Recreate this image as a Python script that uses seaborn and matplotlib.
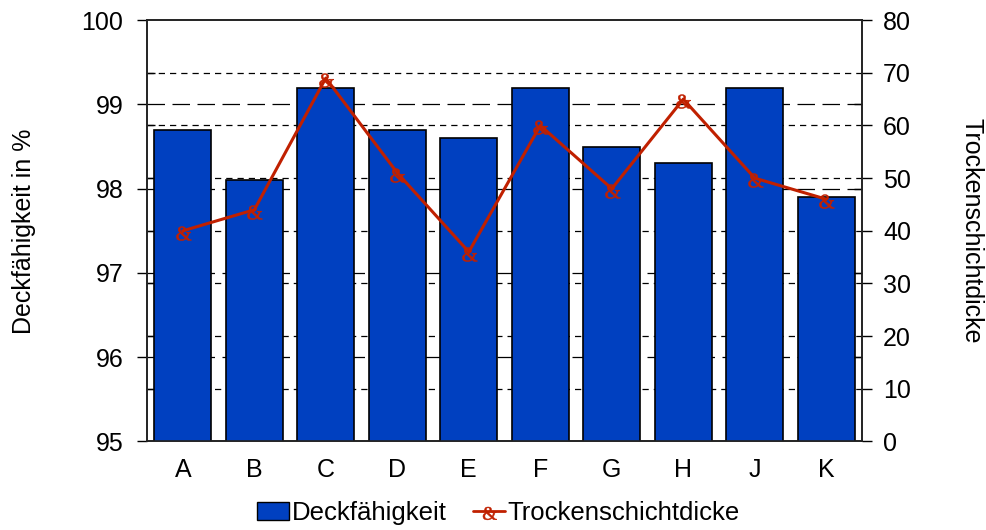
import numpy as np
import pandas as pd
import matplotlib
matplotlib.use("Agg")
import matplotlib.pyplot as plt
import seaborn as sns
from matplotlib.lines import Line2D
from matplotlib.patches import Patch
from matplotlib.ticker import FixedLocator
from matplotlib.textpath import TextPath
from matplotlib.font_manager import FontProperties
from matplotlib.path import Path

# Daten
kategorien = ["A", "B", "C", "D", "E", "F", "G", "H", "J", "K"]
deckfaehigkeit = [98.7, 98.1, 99.2, 98.7, 98.6, 99.2, 98.5, 98.3, 99.2, 97.9]
trockenschicht = [40, 44, 69, 51, 36, 60, 48, 65, 50, 46]

df = pd.DataFrame({"kat": kategorien, "deck": deckfaehigkeit, "dicke": trockenschicht})
df["pos"] = range(len(df))

blau = "#0040C0"
rot = "#C02000"
fs = 18

sns.set_theme(style="white")
plt.rcParams["font.family"] = ["Liberation Sans", "DejaVu Sans"]
plt.rcParams["text.color"] = "black"
plt.rcParams["axes.labelcolor"] = "black"
plt.rcParams["xtick.color"] = "black"
plt.rcParams["ytick.color"] = "black"

# "&"-Marker als Pfad, zentriert
tp = TextPath((0, 0), "&", prop=FontProperties(family="Liberation Serif"))
verts = tp.vertices.copy()
mitte = (verts.max(axis=0) + verts.min(axis=0)) / 2
verts = verts - mitte
# etwas nach unten verschieben, Linie trifft oberen Teil des Zeichens
verts[:, 1] -= 0.15 * (verts[:, 1].max() - verts[:, 1].min())
und_marker = Path(verts, tp.codes)

fig, ax = plt.subplots(figsize=(9.87, 5.30), dpi=100)
fig.subplots_adjust(left=0.149, right=0.8734, top=0.962, bottom=0.167)

# Balken (linke Achse)
sns.barplot(data=df, x="kat", y="deck", color=blau, saturation=1, width=0.8,
            edgecolor="black", linewidth=1.2, ax=ax, zorder=3)
ax.set_ylim(95, 100)
ax.set_yticks([95, 96, 97, 98, 99, 100])
ax.set_xlim(-0.5, len(kategorien) - 0.5)
ax.set_xlabel("")
ax.set_ylabel("Deckfähigkeit in %", fontsize=fs, labelpad=33)
ax.tick_params(axis="y", labelsize=fs, direction="out", length=7, width=1, left=True, pad=10)
ax.tick_params(axis="x", labelsize=fs, length=0, pad=12)
ax.yaxis.set_minor_locator(FixedLocator([95 + k * 5 / 8 for k in range(1, 8)]))
ax.tick_params(axis="y", which="minor", direction="in", length=6, width=1, left=True)

# Hilfslinien
for v in [96, 97, 98, 99]:
    ax.axhline(v, color="black", lw=0.9, dashes=(14, 6), zorder=1)
for v in range(10, 80, 10):
    ax.axhline(95 + v * 5 / 80, color="black", lw=0.9, dashes=(5, 4), zorder=1)

# Linie (rechte Achse)
ax2 = ax.twinx()
sns.lineplot(data=df, x="pos", y="dicke", color=rot, lw=2.2, marker=und_marker,
             markersize=13, markeredgewidth=0.4, markeredgecolor=rot, ax=ax2, zorder=5)
ax2.set_ylim(0, 80)
ax2.set_yticks(range(0, 81, 10))
ax2.set_xlim(-0.5, len(kategorien) - 0.5)
ax2.set_xlabel("")
ax2.set_ylabel("Trockenschichtdicke", fontsize=fs, rotation=-90, labelpad=52)
ax2.tick_params(axis="y", labelsize=fs, direction="out", length=7, width=1, right=True, pad=8)
ax2.yaxis.set_minor_locator(FixedLocator([16, 32, 48, 64]))
ax2.tick_params(axis="y", which="minor", direction="in", length=6, width=1, right=True)

for a in (ax, ax2):
    for s in a.spines.values():
        s.set_color("#222222")
        s.set_linewidth(1.2)

handles = [
    Patch(facecolor=blau, edgecolor="black", label="Deckfähigkeit"),
    Line2D([0], [0], color=rot, lw=2, marker=und_marker, markersize=12,
           markeredgewidth=0.4, markeredgecolor=rot, label="Trockenschichtdicke"),
]
fig.legend(handles=handles, loc="lower center", ncol=2, frameon=False, fontsize=fs + 0.5,
           bbox_to_anchor=(0.505, -0.035), handlelength=1.25, handletextpad=0.1,
           columnspacing=1.0)

fig.savefig("out.png", dpi=100)
